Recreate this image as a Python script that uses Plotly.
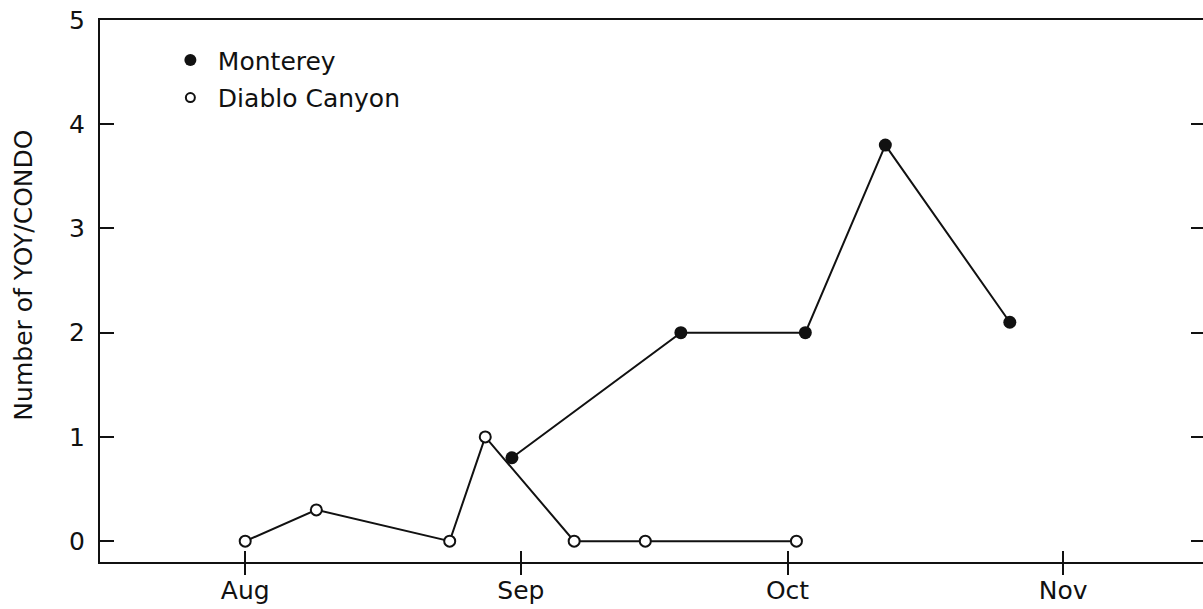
import plotly.graph_objects as go

# Survey dates and counts (YOY per CONDO)
diablo_dates = ["1989-08-01", "1989-08-09", "1989-08-24", "1989-08-28",
                "1989-09-07", "1989-09-15", "1989-10-02"]
diablo_counts = [0.0, 0.3, 0.0, 1.0, 0.0, 0.0, 0.0]

monterey_dates = ["1989-08-31", "1989-09-19", "1989-10-03", "1989-10-12", "1989-10-26"]
monterey_counts = [0.8, 2.0, 2.0, 3.8, 2.1]

month_ticks = ["1989-08-01", "1989-09-01", "1989-10-01", "1989-11-01"]
month_labels = ["Aug", "Sep", "Oct", "Nov"]
y_ticks = [0, 1, 2, 3, 4, 5]

INK = "#111111"
FONT = "DejaVu Sans"
FS = 25
x_range = ["1989-07-15 16:00", "1989-11-16 17:30"]
y_range = [-0.2, 5]

fig = go.Figure()

fig.add_trace(go.Scatter(
    x=diablo_dates, y=diablo_counts, mode="lines+markers",
    line=dict(color=INK, width=2),
    marker=dict(symbol="circle", size=11, color="white", line=dict(color=INK, width=2)),
    showlegend=False, cliponaxis=False,
))
fig.add_trace(go.Scatter(
    x=monterey_dates, y=monterey_counts, mode="lines+markers",
    line=dict(color=INK, width=2),
    marker=dict(symbol="circle", size=13, color=INK),
    showlegend=False, cliponaxis=False,
))

# Legend entries show the symbols only
fig.add_trace(go.Scatter(
    x=[None], y=[None], mode="markers", name="Monterey", legendgroup="m",
    marker=dict(symbol="circle", size=12, color=INK),
))
fig.add_trace(go.Scatter(
    x=[None], y=[None], mode="markers", name="Diablo Canyon", legendgroup="d",
    marker=dict(symbol="circle", size=9, color="white", line=dict(color=INK, width=2)),
))

# Companion axes: inward x ticks (crossing the baseline) and right-side y ticks
fig.add_trace(go.Scatter(x=[None], y=[None], xaxis="x2", yaxis="y2",
                         showlegend=False, hoverinfo="skip"))

fig.update_layout(
    width=1203, height=609,
    margin=dict(l=100, r=0, t=20, b=47),
    paper_bgcolor="white", plot_bgcolor="white",
    font=dict(family=FONT, size=FS, color=INK),
    xaxis=dict(
        type="date", range=x_range,
        tickmode="array", tickvals=month_ticks, ticktext=month_labels,
        ticks="outside", ticklen=11, tickwidth=2, tickcolor=INK,
        showline=True, linewidth=2, linecolor=INK, mirror=True,
        showgrid=False, zeroline=False, ticklabelstandoff=-6,
        tickfont=dict(family=FONT, size=FS, color=INK),
    ),
    xaxis2=dict(
        type="date", range=x_range, overlaying="x", anchor="y",
        tickmode="array", tickvals=month_ticks,
        ticks="inside", ticklen=11, tickwidth=2, tickcolor=INK,
        showticklabels=False, showline=False, showgrid=False, zeroline=False,
    ),
    yaxis=dict(
        range=y_range, tickmode="array", tickvals=y_ticks,
        ticks="inside", ticklen=14, tickwidth=2, tickcolor=INK,
        showline=True, linewidth=2, linecolor=INK, mirror=False,
        showgrid=False, zeroline=False, ticklabelstandoff=8,
        tickfont=dict(family=FONT, size=FS, color=INK),
    ),
    yaxis2=dict(
        range=y_range, overlaying="y", side="right", anchor="x",
        tickmode="array", tickvals=y_ticks,
        ticks="inside", ticklen=12, tickwidth=2, tickcolor=INK,
        showticklabels=False, showline=False, showgrid=False, zeroline=False,
    ),
    legend=dict(
        x=0.057, y=0.968, xanchor="left", yanchor="top",
        bgcolor="rgba(0,0,0,0)", borderwidth=0,
        font=dict(family=FONT, size=FS, color=INK),
        itemwidth=45, tracegroupgap=2,
    ),
    annotations=[dict(
        text="Number of YOY/CONDO", xref="paper", yref="paper",
        x=-0.069, y=0.53, xanchor="center", yanchor="middle",
        textangle=-90, showarrow=False,
        font=dict(family=FONT, size=FS, color=INK),
    )],
)

fig.write_html("out.html")
